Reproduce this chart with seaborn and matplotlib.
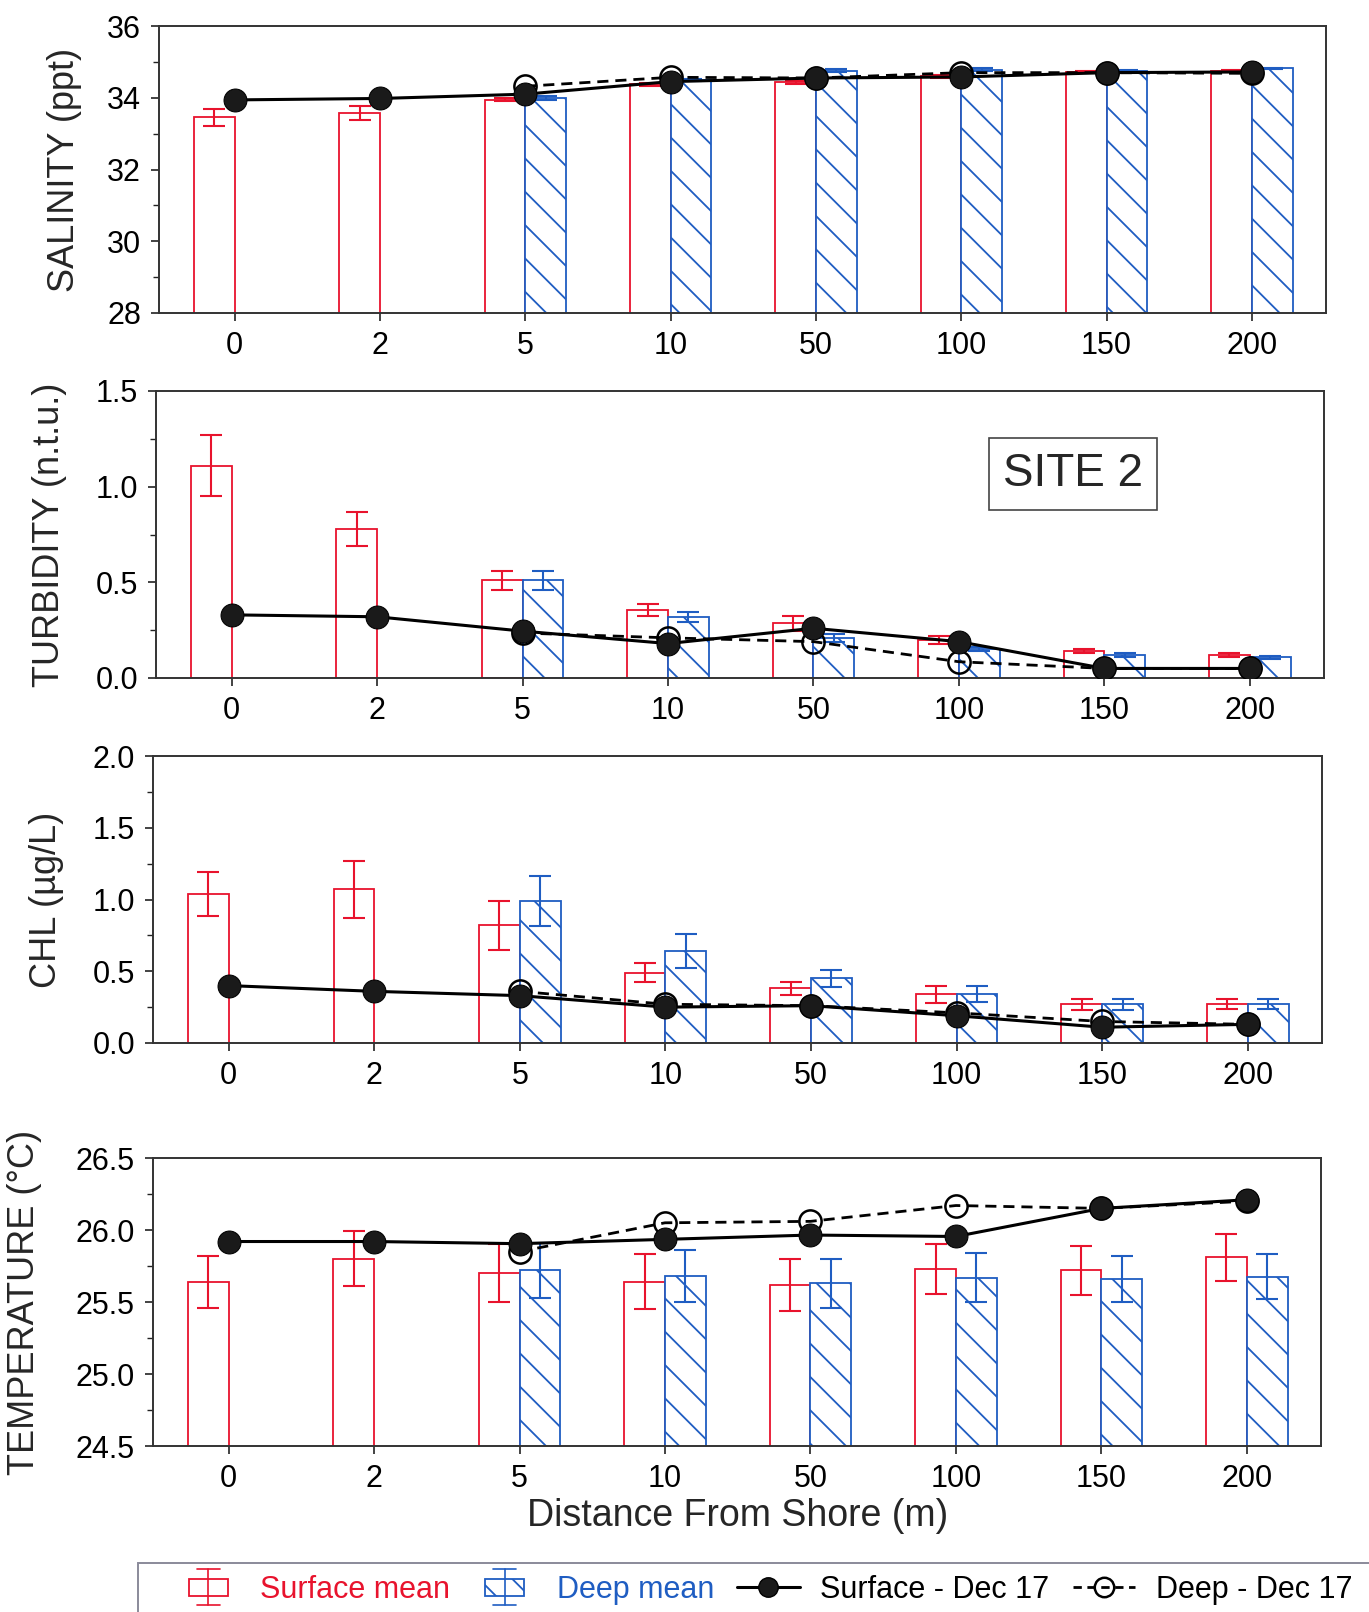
import numpy as np
import pandas as pd
import matplotlib
matplotlib.use("Agg")
import matplotlib.pyplot as plt
from matplotlib.ticker import MultipleLocator, FuncFormatter
from matplotlib.patches import Patch, Rectangle
from matplotlib.lines import Line2D
from matplotlib.legend_handler import HandlerBase
import seaborn as sns

nan = np.nan

# Distance categories (m)
distances = ["0", "2", "5", "10", "50", "100", "150", "200"]

# Salinity (ppt)
sal_surf_mean = [33.45, 33.57, 33.95, 34.38, 34.43, 34.60, 34.72, 34.75]
sal_surf_err = [0.25, 0.20, 0.05, 0.04, 0.05, 0.04, 0.03, 0.03]
sal_deep_mean = [nan, nan, 34.00, 34.50, 34.75, 34.78, 34.75, 34.82]
sal_deep_err = [nan, nan, 0.05, 0.03, 0.04, 0.04, 0.03, 0.02]
sal_surf_dec17 = [33.94, 33.98, 34.10, 34.45, 34.55, 34.58, 34.70, 34.72]
sal_deep_dec17 = [nan, nan, 34.32, 34.57, 34.55, 34.70, 34.70, 34.68]

# Turbidity (n.t.u.)
turb_surf_mean = [1.11, 0.78, 0.51, 0.355, 0.285, 0.20, 0.14, 0.12]
turb_surf_err = [0.16, 0.09, 0.05, 0.03, 0.04, 0.02, 0.01, 0.01]
turb_deep_mean = [nan, nan, 0.51, 0.32, 0.21, 0.15, 0.12, 0.108]
turb_deep_err = [nan, nan, 0.05, 0.025, 0.02, 0.01, 0.01, 0.008]
turb_surf_dec17 = [0.33, 0.32, 0.245, 0.18, 0.26, 0.19, 0.05, 0.05]
turb_deep_dec17 = [nan, nan, 0.235, 0.21, 0.19, 0.085, 0.05, 0.05]

# Chlorophyll (ug/L)
chl_surf_mean = [1.04, 1.07, 0.82, 0.49, 0.38, 0.34, 0.27, 0.27]
chl_surf_err = [0.155, 0.20, 0.17, 0.065, 0.045, 0.06, 0.04, 0.035]
chl_deep_mean = [nan, nan, 0.99, 0.64, 0.45, 0.34, 0.27, 0.27]
chl_deep_err = [nan, nan, 0.175, 0.12, 0.06, 0.055, 0.04, 0.035]
chl_surf_dec17 = [0.40, 0.36, 0.33, 0.25, 0.26, 0.19, 0.11, 0.13]
chl_deep_dec17 = [nan, nan, 0.36, 0.27, 0.26, 0.21, 0.15, 0.13]

# Temperature (deg C)
temp_surf_mean = [25.64, 25.80, 25.70, 25.64, 25.62, 25.73, 25.72, 25.81]
temp_surf_err = [0.18, 0.19, 0.20, 0.19, 0.18, 0.175, 0.17, 0.165]
temp_deep_mean = [nan, nan, 25.72, 25.68, 25.63, 25.67, 25.66, 25.675]
temp_deep_err = [nan, nan, 0.19, 0.18, 0.17, 0.17, 0.16, 0.155]
temp_surf_dec17 = [25.92, 25.92, 25.905, 25.935, 25.965, 25.955, 26.15, 26.21]
temp_deep_dec17 = [nan, nan, 25.85, 26.05, 26.06, 26.17, 26.15, 26.20]

RED = "#e8132d"
BLUE = "#1f5dc2"

sns.set_theme(style="ticks")
plt.rcParams["font.family"] = ["Liberation Sans", "DejaVu Sans"]
plt.rcParams["hatch.linewidth"] = 1.3
plt.rcParams["hatch.color"] = BLUE

W, H = 1369, 1612
fig = plt.figure(figsize=(W / 100, H / 100), dpi=100)

panels = [
    dict(ylabel="SALINITY (ppt)", ylim=(28, 36), major=2, minor=1,
         sm=sal_surf_mean, se=sal_surf_err, dm=sal_deep_mean, de=sal_deep_err,
         sl=sal_surf_dec17, dl=sal_deep_dec17,
         box=(159, 1326, 26, 313), labx=-0.066, fmt="{:.0f}"),
    dict(ylabel="TURBIDITY (n.t.u.)", ylim=(0, 1.5), major=0.5, minor=0.25,
         sm=turb_surf_mean, se=turb_surf_err, dm=turb_deep_mean, de=turb_deep_err,
         sl=turb_surf_dec17, dl=turb_deep_dec17,
         box=(156, 1324, 391, 678), labx=-0.076, fmt="{:.1f}"),
    dict(ylabel="CHL (\u00b5g/L)", ylim=(0, 2.0), major=0.5, minor=0.25,
         sm=chl_surf_mean, se=chl_surf_err, dm=chl_deep_mean, de=chl_deep_err,
         sl=chl_surf_dec17, dl=chl_deep_dec17,
         box=(153, 1322, 756, 1043), labx=-0.076, fmt="{:.1f}"),
    dict(ylabel="TEMPERATURE (\u00b0C)", ylim=(24.5, 26.5), major=0.5, minor=0.25,
         sm=temp_surf_mean, se=temp_surf_err, dm=temp_deep_mean, de=temp_deep_err,
         sl=temp_surf_dec17, dl=temp_deep_dec17,
         box=(153, 1321, 1158, 1446), labx=-0.095, fmt="{:.1f}"),
]

idx = np.arange(len(distances))
axes = []
for p in panels:
    l, r, t, b = p["box"]
    ax = fig.add_axes([l / W, 1 - b / H, (r - l) / W, (b - t) / H])
    axes.append(ax)

    df = pd.DataFrame({
        "distance": distances * 2,
        "value": list(p["sm"]) + list(p["dm"]),
        "series": ["Surface mean"] * 8 + ["Deep mean"] * 8,
    }).dropna()
    sns.barplot(data=df, x="distance", y="value", hue="series", order=distances,
                hue_order=["Surface mean", "Deep mean"], width=0.56,
                palette=[RED, BLUE], errorbar=None, legend=False, ax=ax,
                linewidth=1.3, zorder=2)

    errs = {0: (RED, p["se"]), 1: (BLUE, p["de"])}
    for ci, cont in enumerate(ax.containers[:2]):
        col, err = errs[ci]
        xs, ys, es = [], [], []
        for bar in cont:
            bar.set_facecolor("white")
            bar.set_edgecolor(col)
            if ci == 1:
                bar.set_hatch("\\")
            xc = bar.get_x() + bar.get_width() / 2
            k = int(round(xc))
            xs.append(xc)
            ys.append(bar.get_height())
            es.append(err[k])
        ax.errorbar(xs, ys, yerr=es, fmt="none", ecolor=col, elinewidth=1.5,
                    capsize=8, capthick=1.5, zorder=3)

    # Dec 17 profiles: deep (open, dashed) below surface (filled, solid)
    dl = np.array(p["dl"], dtype=float)
    m = ~np.isnan(dl)
    sns.lineplot(x=idx[m], y=dl[m], ax=ax, color="black", linestyle="--",
                 linewidth=2, marker="o", markersize=16, markerfacecolor="none",
                 markeredgecolor="black", markeredgewidth=1.8, zorder=4)
    sns.lineplot(x=idx, y=np.array(p["sl"], dtype=float), ax=ax, color="black",
                 linewidth=2.2, marker="o", markersize=16.5, markerfacecolor="#1a1a1a",
                 markeredgecolor="black", zorder=5)
    for ln in ax.lines:
        if ln.get_linestyle() == "--":
            ln.set_dashes((4, 2.5))

    ax.set_xlim(-0.52, 7.51)
    ax.set_ylim(*p["ylim"])
    ax.set_xticks(idx)
    ax.set_xticklabels(distances)
    ax.yaxis.set_major_locator(MultipleLocator(p["major"]))
    ax.yaxis.set_minor_locator(MultipleLocator(p["minor"]))
    ax.yaxis.set_major_formatter(FuncFormatter(
        lambda v, pos, f=p["fmt"]: f.format(v)))
    ax.tick_params(axis="both", which="major", direction="out", length=6,
                   width=1.2, labelsize=22, pad=7, colors="#222222",
                   labelcolor="black")
    ax.tick_params(axis="y", which="minor", direction="out", length=4, width=1.0,
                   colors="#222222")
    for s in ax.spines.values():
        s.set_visible(True)
        s.set_linewidth(1.4)
        s.set_color("#333333")
    ax.set_xlabel("")
    ax.set_ylabel(p["ylabel"], fontsize=26)
    ax.yaxis.set_label_coords(p["labx"], 0.5)
    ax.set_facecolor("white")

axes[1].text(0.785, 0.711, "SITE 2", transform=axes[1].transAxes, fontsize=33,
             ha="center", va="center",
             bbox=dict(boxstyle="square,pad=0.3", facecolor="white",
                       edgecolor="#444444", linewidth=1.2))

fig.text(738 / W, 1 - 1516 / H, "Distance From Shore (m)", fontsize=27,
         ha="center", va="center")


class BarErrHandler(HandlerBase):
    """Legend key: small open bar with an error bar through it."""

    def __init__(self, color, hatch=None):
        super().__init__()
        self.color = color
        self.hatch = hatch

    def create_artists(self, legend, orig_handle, xdescent, ydescent, width,
                       height, fontsize, trans):
        bw = width * 0.62
        bh = height * 0.8
        x0 = -xdescent + (width - bw) / 2
        yc = -ydescent + height / 2
        rect = Rectangle((x0, yc - bh / 2), bw, bh, facecolor="white",
                         edgecolor=self.color, linewidth=1.3, transform=trans)
        if self.hatch:
            rect.set_hatch(self.hatch)
        xm = x0 + bw / 2
        ext = height * 0.85
        cap = bw * 0.6
        vline = Line2D([xm, xm], [yc - ext, yc + ext], color=self.color,
                       linewidth=1.2, transform=trans)
        c1 = Line2D([xm - cap / 2, xm + cap / 2], [yc + ext, yc + ext],
                    color=self.color, linewidth=1.2, transform=trans)
        c2 = Line2D([xm - cap / 2, xm + cap / 2], [yc - ext, yc - ext],
                    color=self.color, linewidth=1.2, transform=trans)
        return [rect, vline, c1, c2]


surf_key = Patch(facecolor="white", edgecolor=RED)
deep_key = Patch(facecolor="white", edgecolor=BLUE, hatch="\\")
handles = [
    surf_key,
    deep_key,
    Line2D([0], [0], color="black", linewidth=2.2, marker="o", markersize=14,
           markerfacecolor="#1a1a1a"),
    Line2D([0], [0], color="black", linewidth=2, linestyle=(0, (3, 2)), marker="o",
           markersize=14, markerfacecolor="none", markeredgewidth=1.8),
]
labels = ["Surface mean", "Deep mean", "Surface - Dec 17", "Deep - Dec 17"]

# Legend frame running off the right and bottom edges
fig.patches.append(Rectangle((138 / W, -0.01), 1.0, (1612 - 1563) / H + 0.01,
                             transform=fig.transFigure, facecolor="white",
                             edgecolor="#8a8a9a", linewidth=1.4, zorder=0))

leg = fig.legend(handles, labels, loc="center left", ncol=4,
                 bbox_to_anchor=(177 / W, 1 - 1590 / H), fontsize=22,
                 frameon=False, borderaxespad=0, borderpad=0,
                 handlelength=2.05, handleheight=0.7, handletextpad=0.68,
                 columnspacing=0.75,
                 handler_map={surf_key: BarErrHandler(RED),
                              deep_key: BarErrHandler(BLUE, "\\")},
                 labelcolor=[RED, BLUE, "black", "black"])

fig.savefig("out.png", dpi=100, facecolor="white")
